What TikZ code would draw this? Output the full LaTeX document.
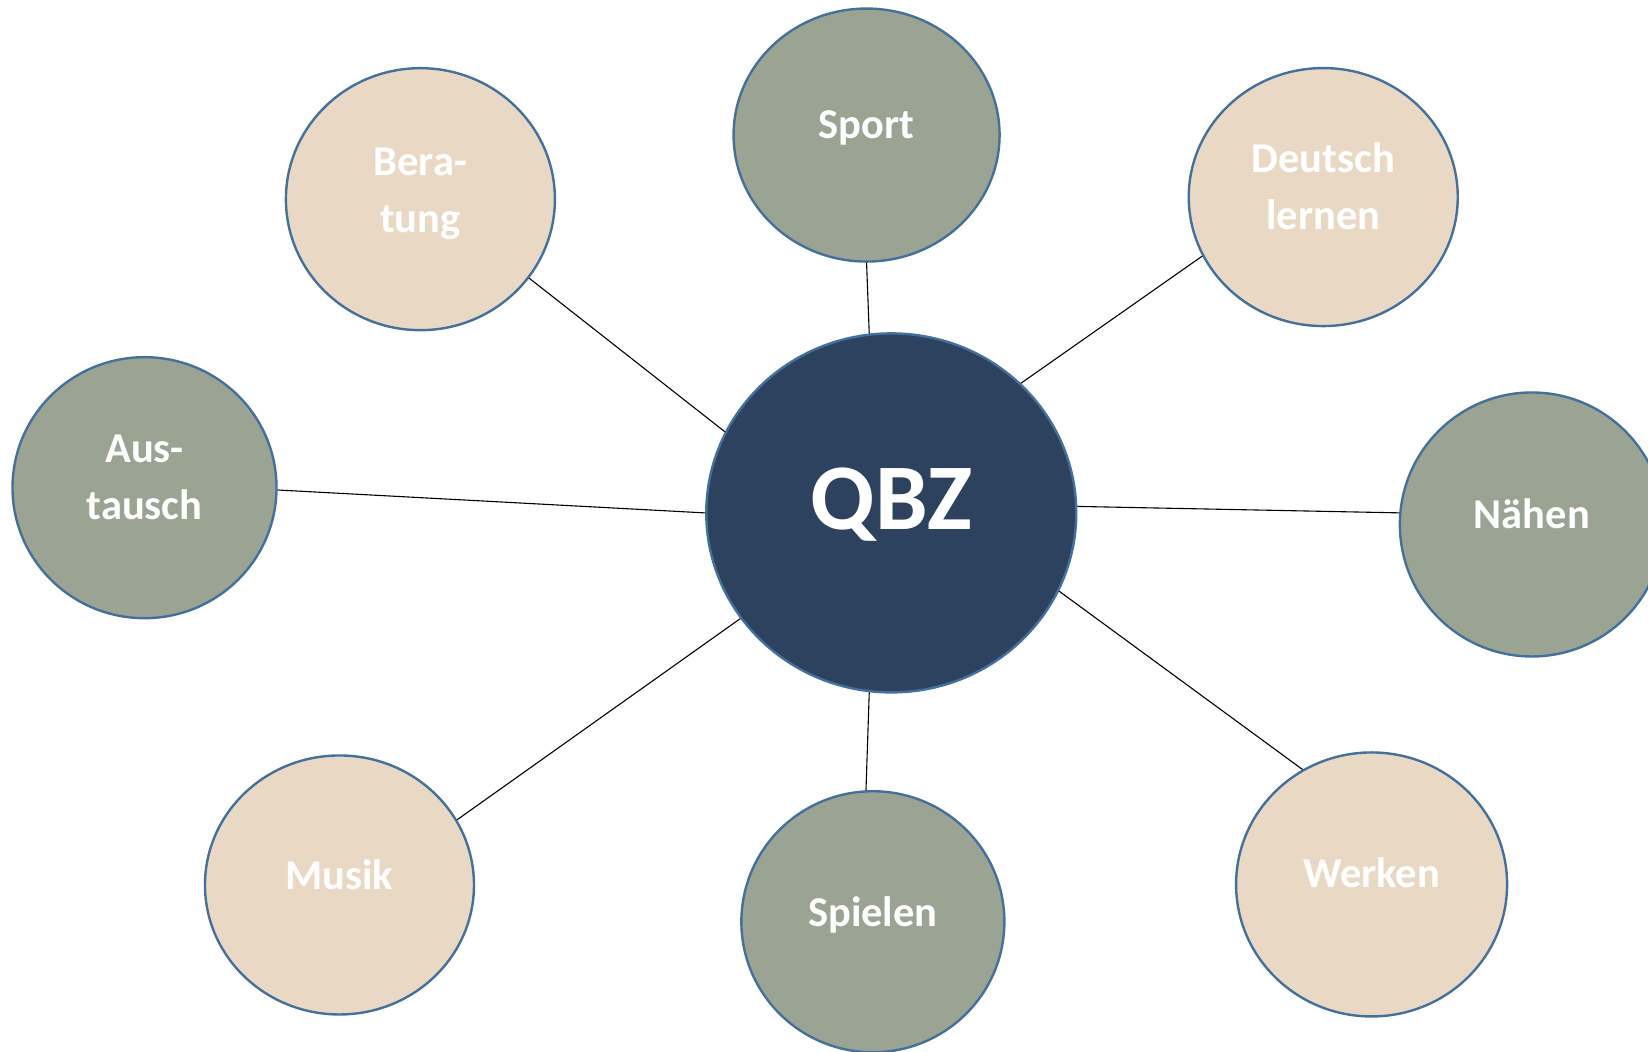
\documentclass[tikz,border=0pt]{standalone}
\usepackage{fontspec}
\setmainfont{Carlito}
\usetikzlibrary{shapes.geometric}
\definecolor{navy}{HTML}{2C425E}
\definecolor{edgeblue}{HTML}{44709E}
\definecolor{sage}{HTML}{9BA393}
\definecolor{sand}{HTML}{E9D9C4}
\begin{document}
\begin{tikzpicture}[x=1.051pt,y=-1.051pt,
  bub/.style={ellipse, draw=edgeblue, line width=2.4pt, inner sep=0pt},
  grn/.style={bub, fill=sage},
  bei/.style={bub, fill=sand},
  lbl/.style={text=white, font=\fontsize{42.5}{57}\selectfont\bfseries, align=center, inner sep=0pt},
  conn/.style={black, line width=1.1pt}]
\useasboundingbox (0,0) rectangle (1568,1000);
\clip (0,0) rectangle (1568,1000);
% bubbles
\node[bub, fill=navy, minimum width=370pt, minimum height=359pt] (qbz) at (848,488) {};
\node[grn, minimum width=266pt, minimum height=253pt] (sport) at (824.5,128.5) {};
\node[bei, minimum width=269pt, minimum height=262pt] (ber) at (400,189.5) {};
\node[bei, minimum width=269pt, minimum height=258pt] (deu) at (1259,187.5) {};
\node[grn, minimum width=264pt, minimum height=261pt] (aus) at (137.5,464) {};
\node[grn, minimum width=264pt, minimum height=264pt] (nae) at (1457.5,499) {};
\node[bei, minimum width=269pt, minimum height=259pt] (mus) at (323,842) {};
\node[grn, minimum width=263pt, minimum height=261pt] (spi) at (830.5,877) {};
\node[bei, minimum width=271pt, minimum height=264pt] (wer) at (1305,841.5) {};
% connectors
\draw[conn] (ber.324) -- (qbz.154);
\draw[conn] (sport.270) -- (qbz.97);
\draw[conn] (deu.206) -- (qbz.45);
\draw[conn] (aus.359) -- (qbz.180);
\draw[conn] (nae.175) -- (qbz.2);
\draw[conn] (mus.29) -- (qbz.215);
\draw[conn] (spi.93) -- (qbz.263);
\draw[conn] (wer.121) -- (qbz.335);
% labels
\node[lbl, font=\fontsize{94}{100}\selectfont\bfseries] (tqbz) at ([yshift=8.5pt]qbz.center) {QBZ};
\node[lbl] (tsport) at ([yshift=7.3pt]sport.center) {Sport};
\node[lbl] (tber) at ([yshift=5.8pt]ber.center) {Bera-\\tung};
\node[lbl] (tdeu) at ([yshift=11pt]deu.center) {Deutsch\\lernen};
\node[lbl] (taus) at ([yshift=10pt]aus.center) {Aus-\\tausch};
\node[lbl] (tnae) at ([yshift=10.5pt]nae.center) {Nähen};
\node[lbl] (tmus) at ([yshift=10.5pt]mus.center) {Musik};
\node[lbl] (tspi) at ([yshift=6.5pt]spi.center) {Spielen};
\node[lbl] (twer) at ([yshift=11.5pt]wer.center) {Werken};
\end{tikzpicture}
\end{document}
